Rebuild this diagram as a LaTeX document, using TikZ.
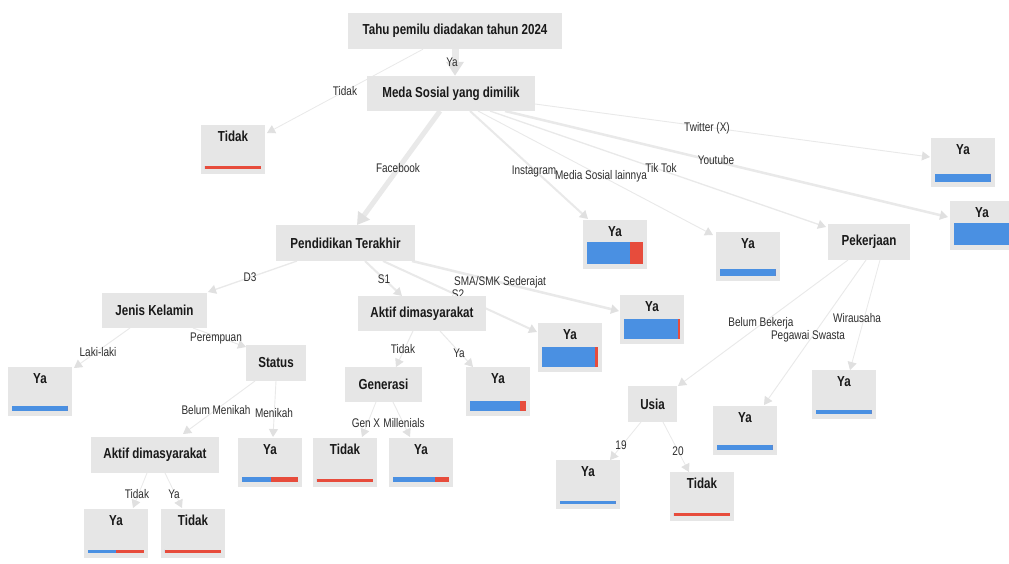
\documentclass[tikz,border=0pt]{standalone}
\usepackage{fontspec}
\setmainfont{Liberation Sans}[FakeStretch=0.8]
\usetikzlibrary{arrows.meta}
\pgfdeclarelayer{bg}
\pgfsetlayers{bg,main}
\definecolor{boxgray}{HTML}{E6E6E6}
\definecolor{edgegray}{HTML}{E9E9E9}
\definecolor{tipgray}{HTML}{E0E0E0}
\definecolor{barblue}{HTML}{4A90E2}
\definecolor{barred}{HTML}{E74C3C}
\definecolor{lbl}{HTML}{2E2E2E}
\tikzset{
  dbox/.style={fill=boxgray, minimum height=36pt, inner sep=0pt,
    font=\fontsize{14.5}{16}\selectfont\bfseries, text=black!90},
  leafbox/.style={fill=boxgray, minimum width=64pt, minimum height=49pt, inner sep=0pt},
  leaftitle/.style={font=\fontsize{14.5}{16}\selectfont\bfseries, text=black!90, inner sep=0pt},
  elabel/.style={font=\fontsize{12.5}{14}\selectfont, text=lbl, inner sep=0pt},
  conn/.style={draw=edgegray, line width=#1,
    -{Triangle[length=8pt,width=9pt,color=tipgray]}},
  conn/.default=1pt,
}
\newcommand{\mkleaf}[6]{%
  \node[leafbox] (#1) at (#2,#3) {};
  \node[leaftitle] (#1t) at ([yshift=-12pt]#1.north) {#4};
  \fill[barblue] ([shift={(4,5)}]#1.south west) rectangle ++(#6,#5);
  \fill[barred] ([shift={(4+#6,5)}]#1.south west) rectangle ++(56-#6,#5);
}
\begin{document}
\begin{tikzpicture}[x=1pt,y=1pt]
\useasboundingbox (0,0) rectangle (1009,-563);
\clip (0,0) rectangle (1009,-563);

% decision nodes
\node[dbox,minimum width=214pt] (root) at (455,-31) {Tahu pemilu diadakan tahun 2024};
\node[dbox,minimum width=168pt,minimum height=35pt] (meda) at (451,-93.5) {Meda Sosial yang dimilik};
\node[dbox,minimum width=139pt] (pend) at (345.5,-243) {Pendidikan Terakhir};
\node[dbox,minimum width=82pt] (pek) at (869,-242) {Pekerjaan};
\node[dbox,minimum width=105pt,minimum height=35pt] (jk) at (154.5,-310.5) {Jenis Kelamin};
\node[dbox,minimum width=128pt,minimum height=35pt] (aktifA) at (422,-313.5) {Aktif dimasyarakat};
\node[dbox,minimum width=60pt] (status) at (276,-363) {Status};
\node[dbox,minimum width=77pt,minimum height=35pt] (gen) at (383.5,-384.5) {Generasi};
\node[dbox,minimum width=128pt] (aktifB) at (155,-455) {Aktif dimasyarakat};
\node[dbox,minimum width=49pt] (usia) at (652.5,-404) {Usia};

% leaves
\mkleaf{tdkA}{233}{-149.5}{Tidak}{3}{0}
\mkleaf{igYa}{615}{-244.5}{Ya}{22}{43}
\mkleaf{mslYa}{748}{-256.5}{Ya}{7}{56}
\mkleaf{twYa}{963}{-162}{Ya}{8}{56}
\mkleaf{ytYa}{982}{-225.5}{Ya}{22}{56}
\mkleaf{smaYa}{652}{-319.5}{Ya}{20}{54}
\mkleaf{stwoYa}{570}{-347.5}{Ya}{20}{53}
\mkleaf{lakiYa}{40}{-391}{Ya}{5}{56}
\mkleaf{aktYa}{498}{-391.5}{Ya}{10}{50}
\mkleaf{nikYa}{270}{-462}{Ya}{5}{29}
\mkleaf{genxTdk}{345}{-462}{Tidak}{3}{0}
\mkleaf{millYa}{421}{-462}{Ya}{5}{42}
\mkleaf{botYa}{116}{-533}{Ya}{3}{28}
\mkleaf{botTdk}{193}{-533}{Tidak}{3}{0}
\mkleaf{pegYa}{745}{-430}{Ya}{5}{56}
\mkleaf{wirYa}{844}{-394.5}{Ya}{4}{56}
\mkleaf{usYa}{588}{-484.5}{Ya}{3}{56}
\mkleaf{usTdk}{702}{-496.5}{Tidak}{3}{0}

\begin{pgfonlayer}{bg}
\fill[white] (0,0) rectangle (1009,-563);
% connectors
\draw[conn=7pt,-{Triangle[length=14pt,width=17pt,color=tipgray]}] (root.south) -- ([xshift=4pt]meda.north);
\draw[conn=0.8pt] ([xshift=-32pt]root.south) -- ([shift={(34,16.5)}]tdkA.center);
\draw[conn=5pt,-{Triangle[length=12pt,width=14pt,color=tipgray]}] ([shift={(-11,-17.5)}]meda.center) -- ([shift={(11.5,18)}]pend.center);
\draw[conn=2pt] ([shift={(19,-17.5)}]meda.center) -- ([shift={(-27,25.5)}]igYa.center);
\draw[conn=0.9pt] ([shift={(27,-17.5)}]meda.center) -- ([shift={(-35,21.5)}]mslYa.center);
\draw[conn=1.3pt] ([shift={(39,-17.5)}]meda.center) -- ([shift={(-43,15)}]pek.center);
\draw[conn=2.5pt] ([shift={(54,-17.5)}]meda.center) -- ([shift={(-34,8.5)}]ytYa.center);
\draw[conn=0.9pt] ([shift={(84,-10.5)}]meda.center) -- ([shift={(-33,5)}]twYa.center);

\draw[conn=1.3pt] ([shift={(-48.5,-18)}]pend.center) -- ([shift={(53.5,18.5)}]jk.center);
\draw[conn=2pt] ([shift={(19.5,-18)}]pend.center) -- ([shift={(-20,17.5)}]aktifA.center);
\draw[conn=2pt] ([shift={(37.5,-18)}]pend.center) -- ([shift={(-33,15.5)}]stwoYa.center);
\draw[conn=2.5pt] ([shift={(66.5,-18)}]pend.center) -- ([shift={(-33,8.5)}]smaYa.center);

\draw[conn=0.9pt] ([shift={(-24.5,-17.5)}]jk.center) -- ([shift={(34,23)}]lakiYa.center);
\draw[conn] ([shift={(38.5,-17.5)}]jk.center) -- ([shift={(-30,16)}]status.center);

\draw[conn=0.9pt] ([shift={(-21,-18)}]status.center) -- ([shift={(28,21)}]aktifB.center);
\draw[conn=0.9pt] ([shift={(0,-18)}]status.center) -- ([shift={(3,25)}]nikYa.center);

\draw[conn=0.8pt] ([shift={(-8,-18)}]aktifB.center) -- ([shift={(17,25)}]botYa.center);
\draw[conn=0.8pt] ([shift={(10,-18)}]aktifB.center) -- ([shift={(-11,25)}]botTdk.center);

\draw[conn] ([shift={(-9,-17.5)}]aktifA.center) -- ([shift={(12.5,17.5)}]gen.center);
\draw[conn] ([shift={(18,-17.5)}]aktifA.center) -- ([shift={(-25,24.5)}]aktYa.center);

\draw[conn=0.8pt] ([shift={(-7.5,-17.5)}]gen.center) -- ([shift={(17,25)}]genxTdk.center);
\draw[conn=0.9pt] ([shift={(9.5,-17.5)}]gen.center) -- ([shift={(-11,25)}]millYa.center);

\draw[conn=0.9pt] ([shift={(-21,-18)}]pek.center) -- ([shift={(25.5,18)}]usia.center);
\draw[conn=0.9pt] ([shift={(-3,-18)}]pek.center) -- ([shift={(19,25)}]pegYa.center);
\draw[conn=0.8pt] ([shift={(11,-18)}]pek.center) -- ([shift={(6,24.5)}]wirYa.center);

\draw[conn=0.8pt] ([shift={(-11.5,-18)}]usia.center) -- ([shift={(22,24.5)}]usYa.center);
\draw[conn=0.8pt] ([shift={(10.5,-18)}]usia.center) -- ([shift={(-13,24.5)}]usTdk.center);

% edge labels
\node[elabel] (lbYa) at (452,-62) {Ya};
\node[elabel] (lbTdk) at (345,-91) {Tidak};
\node[elabel] (lbFb) at (398,-168) {Facebook};
\node[elabel] (lbIg) at (534,-171) {Instagram};
\node[elabel] (lbMsl) at (601,-176) {Media Sosial lainnya};
\node[elabel] (lbTt) at (661,-168) {Tik Tok};
\node[elabel] (lbYt) at (716,-160) {Youtube};
\node[elabel] (lbTw) at (707,-128) {Twitter (X)};
\node[elabel] (lbDiii) at (250,-277) {D3};
\node[elabel] (lbSi) at (384,-279) {S1};
\node[elabel] (lbSma) at (500,-282) {SMA/SMK Sederajat};
\node[elabel] (lbSii) at (458,-294) {S2};
\node[elabel] (lbLaki) at (98,-352) {Laki-laki};
\node[elabel] (lbPer) at (216,-338) {Perempuan};
\node[elabel] (lbBm) at (216,-410) {Belum Menikah};
\node[elabel] (lbMen) at (274,-413) {Menikah};
\node[elabel] (lbTdkA) at (403,-349) {Tidak};
\node[elabel] (lbYaA) at (459,-353) {Ya};
\node[elabel] (lbGx) at (366,-423) {Gen X};
\node[elabel] (lbMil) at (404,-423) {Millenials};
\node[elabel] (lbTdkB) at (137,-494) {Tidak};
\node[elabel] (lbYaB) at (174,-494) {Ya};
\node[elabel] (lbBb) at (761,-323) {Belum Bekerja};
\node[elabel] (lbPs) at (808,-336) {Pegawai Swasta};
\node[elabel] (lbWir) at (857,-318) {Wirausaha};
\node[elabel] (lbXix) at (621,-445) {19};
\node[elabel] (lbXx) at (678,-451) {20};
\end{pgfonlayer}
\end{tikzpicture}
\end{document}
